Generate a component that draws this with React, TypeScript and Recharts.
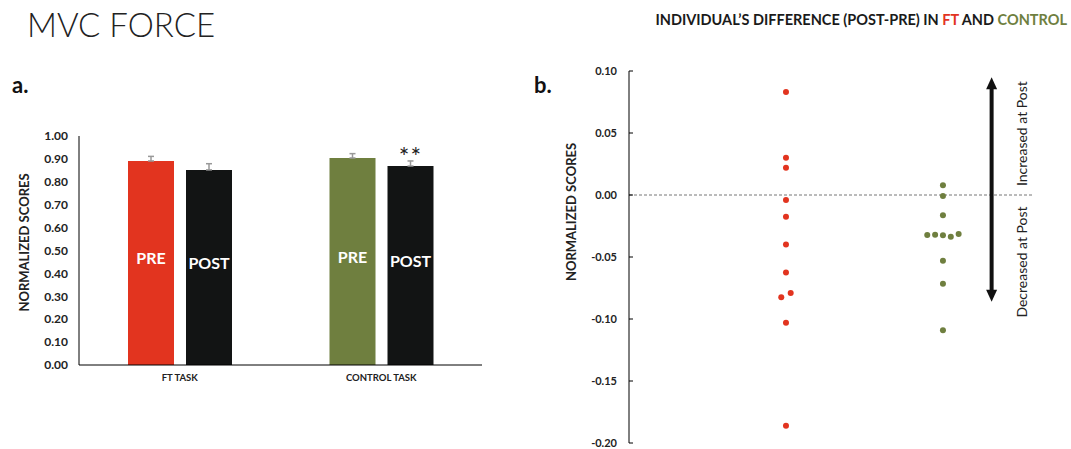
import React from 'react';
import {
  BarChart, Bar, XAxis, YAxis, ErrorBar, Cell, LabelList,
  ScatterChart, Scatter, ReferenceLine, ReferenceDot
} from 'recharts';

const RED = '#E2341F';
const OLIVE = '#6F7F3F';
const BLACK = '#121414';
const FONT = 'Lato, "Open Sans", sans-serif';

// panel a: group means (normalized MVC force)
const tasks = ['FT TASK', 'CONTROL TASK'];
const preMeans = [0.891, 0.904];
const postMeans = [0.852, 0.869];
const preSem = [0.02, 0.019];
const postSem = [0.027, 0.022];
const preColors = [RED, OLIVE];
const sigMarks = ['', '**'];
const barTicks = [0, 0.1, 0.2, 0.3, 0.4, 0.5, 0.6, 0.7, 0.8, 0.9, 1.0];

// panel b: individual post-pre differences
const ftDiff = [0.083, 0.030, 0.022, -0.004, -0.0175, -0.040, -0.0625, -0.0825, -0.079, -0.103, -0.186];
const ftJitter = [0, 0, 0, 0, 0, 0, 0, -0.03, 0.03, 0, 0];
const ctrlDiff = [0.0078, -0.0008, -0.0164, -0.0323, -0.032, -0.0325, -0.0336, -0.0315, -0.053, -0.0715, -0.109];
const ctrlJitter = [0, 0, 0, -0.1, -0.05, 0, 0.05, 0.1, 0, 0, 0];
const diffTicks = [-0.2, -0.15, -0.1, -0.05, 0, 0.05, 0.1];
const ftX = 1;
const ctrlX = 2;
const arrowX = 2.31;
const arrowTop = 0.095;
const arrowBottom = -0.086;
const noteX = 2.5;
const increasedY = 0.0495;
const decreasedY = -0.054;

const barRows = tasks.map((task, i) => ({
  task,
  pre: preMeans[i],
  post: postMeans[i],
  preErr: [0, preSem[i]],
  postErr: [0, postSem[i]],
  sig: sigMarks[i],
}));

const ftPoints = ftDiff.map((y, i) => ({ x: ftX + ftJitter[i], y }));
const ctrlPoints = ctrlDiff.map((y, i) => ({ x: ctrlX + ctrlJitter[i], y }));

const box = (p: any) => (p.viewBox && p.viewBox.width != null ? p.viewBox : p);

const barText = (txt: string) => (props: any) => {
  const { x, y, width, height } = box(props);
  return (
    <text x={x + width / 2} y={y + height / 2 - 5} textAnchor="middle" dominantBaseline="central"
      fill="#fff" fontSize={16} fontWeight={700} fontFamily={FONT}>{txt}</text>
  );
};

const sigText = (props: any) => {
  const { x, y, width } = box(props);
  if (!props.value) return null;
  return (
    <text x={x + width / 2} y={y} textAnchor="middle" fill="#222" fontSize={25} fontFamily={FONT}
      letterSpacing={1}>
      {props.value}
    </text>
  );
};

const axisTitle = (dx: number, dy: number) => (props: any) => {
  const vb = props.viewBox;
  const cx = vb.x + dx;
  const cy = vb.y + vb.height / 2 + dy;
  return (
    <text x={cx} y={cy} transform={`rotate(-90 ${cx} ${cy})`} textAnchor="middle" dominantBaseline="central"
      fill="#222" fontSize={13} fontWeight={700} fontFamily={FONT}>NORMALIZED SCORES</text>
  );
};

const dot = (color: string) => (props: any) => (
  <circle cx={props.cx} cy={props.cy} r={3} fill={color} />
);

const ArrowShape = (props: any) => {
  const x = props.x1;
  const top = Math.min(props.y1, props.y2);
  const bottom = Math.max(props.y1, props.y2);
  const hh = 12;
  const hw = 5.5;
  return (
    <g>
      <line x1={x} y1={top + hh - 1} x2={x} y2={bottom - hh + 1} stroke="#111" strokeWidth={4} />
      <polygon points={`${x},${top} ${x - hw},${top + hh} ${x + hw},${top + hh}`} fill="#111" />
      <polygon points={`${x},${bottom} ${x - hw},${bottom - hh} ${x + hw},${bottom - hh}`} fill="#111" />
    </g>
  );
};

const noteShape = (txt: string) => (props: any) => (
  <text x={props.cx} y={props.cy} transform={`rotate(-90 ${props.cx} ${props.cy})`} textAnchor="middle"
    dominantBaseline="central" fill="#222" fontSize={14} fontFamily={FONT}>{txt}</text>
);

const tickStyle = (size: number) => ({ fontSize: size, fontWeight: 700, fill: '#222', fontFamily: FONT });

export default function App() {
  return (
    <div style={{ position: 'absolute', left: 0, top: 0, width: 1071, height: 449, background: '#fff', fontFamily: FONT }}>
      <svg width={1071} height={449} style={{ position: 'absolute', left: 0, top: 0 }}>
        <text x={27} y={37} fontSize={33} fontWeight={300} fill="#222" fontFamily={FONT}>MVC FORCE</text>
        <text x={12} y={93} fontSize={22} fontWeight={700} fill="#111" fontFamily={FONT}>a.</text>
        <text x={534} y={93} fontSize={22} fontWeight={700} fill="#111" fontFamily={FONT}>b.</text>
        <text x={1067} y={25} textAnchor="end" fontSize={14.5} fontWeight={700} fill="#1a1a1a" fontFamily={FONT}>
          INDIVIDUAL’S DIFFERENCE (POST-PRE) IN <tspan fill={RED}>FT</tspan> AND <tspan fill={OLIVE}>CONTROL</tspan>
        </text>
      </svg>

      <div style={{ position: 'absolute', left: 0, top: 100 }}>
        <BarChart width={500} height={300} data={barRows} margin={{ top: 36, right: 18, bottom: 5, left: 0 }}
          barSize={46} barGap={12}>
          <XAxis dataKey="task" height={30} tickLine={false} axisLine={{ stroke: '#000' }} tickMargin={3}
            tick={tickStyle(9.5)} />
          <YAxis width={79} domain={[0, 1]} ticks={barTicks} tickFormatter={(v: number) => v.toFixed(2)}
            tickLine={false} axisLine={{ stroke: '#000' }} tickMargin={5} tick={tickStyle(12)}
            label={{ content: axisTitle(24, -8) }} />
          <Bar dataKey="pre" isAnimationActive={false}>
            {barRows.map((r, i) => <Cell key={r.task} fill={preColors[i]} />)}
            <ErrorBar dataKey="preErr" direction="y" width={3} stroke="#999" strokeWidth={1.5} />
            <LabelList content={barText('PRE')} />
          </Bar>
          <Bar dataKey="post" fill={BLACK} isAnimationActive={false}>
            <ErrorBar dataKey="postErr" direction="y" width={3} stroke="#999" strokeWidth={1.5} />
            <LabelList content={barText('POST')} />
            <LabelList dataKey="sig" content={sigText} />
          </Bar>
        </BarChart>
      </div>

      <div style={{ position: 'absolute', left: 530, top: 40 }}>
        <ScatterChart width={541} height={409} margin={{ top: 31, right: 37, bottom: 6, left: 0 }}>
          <XAxis type="number" dataKey="x" domain={[0, 2.58]} hide />
          <YAxis type="number" dataKey="y" width={99} domain={[-0.2, 0.1]} ticks={diffTicks}
            tickFormatter={(v: number) => v.toFixed(2)} tickSize={-4} tickMargin={16}
            tickLine={{ stroke: '#000' }} axisLine={{ stroke: '#000' }} tick={tickStyle(11)}
            label={{ content: axisTitle(41, -45) }} />
          <ReferenceLine y={0} stroke="#777" strokeDasharray="3 2" />
          <ReferenceLine segment={[{ x: arrowX, y: arrowTop }, { x: arrowX, y: arrowBottom }]} shape={ArrowShape} />
          <ReferenceDot x={noteX} y={increasedY} shape={noteShape('Increased at Post')} />
          <ReferenceDot x={noteX} y={decreasedY} shape={noteShape('Decreased at Post')} />
          <Scatter data={ftPoints} shape={dot(RED)} isAnimationActive={false} />
          <Scatter data={ctrlPoints} shape={dot(OLIVE)} isAnimationActive={false} />
        </ScatterChart>
      </div>
    </div>
  );
}
